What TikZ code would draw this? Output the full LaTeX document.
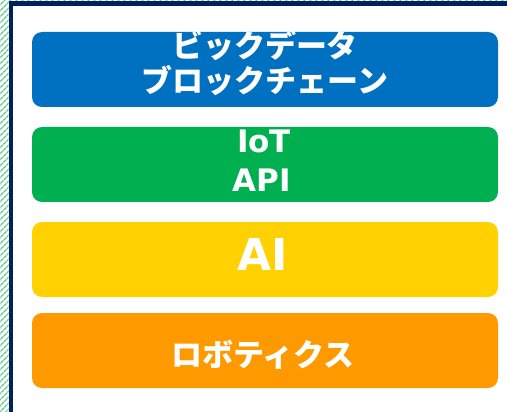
\documentclass[tikz,border=0pt]{standalone}
\usepackage{fontspec}
\newfontfamily\jpfont{Noto Sans CJK JP}
\newfontfamily\latinfont{DejaVu Sans}
\usetikzlibrary{patterns.meta}
\definecolor{layerblue}{HTML}{0070C0}
\definecolor{layergreen}{HTML}{00B050}
\definecolor{layeryellow}{HTML}{FFD100}
\definecolor{layerorange}{HTML}{FF9900}
\definecolor{framenavy}{HTML}{002060}
\definecolor{hatchgreen}{HTML}{5CCB8A}
\tikzset{
  layer/.style = {rounded corners = 10pt, minimum width = 466pt, minimum height = 75pt, inner sep = 0pt},
  caption/.style = {text = white, anchor = base, inner sep = 0pt, font = \jpfont\bfseries\fontsize{31}{31}\selectfont},
  hatch/.style = {pattern = {Lines[angle = 45, distance = 4pt, line width = 1.4pt]}, pattern color = hatchgreen}
}

\begin{document}
\begin{tikzpicture}[x = 1pt, y = -1pt]
\useasboundingbox (0,0) rectangle (507,412);
\fill[hatch] (0,0) rectangle (8.5,412);
\fill[hatch] (8.5,0) rectangle (507,1.5);
\draw[line width = 4.5pt, framenavy] (10.75,412) -- (10.75,3.5) -- (507,3.5);
\node[layer, fill = layerblue] (databox) at (265,69.5) {};
\node[layer, fill = layergreen] (iotbox) at (265,164.5) {};
\node[layer, fill = layeryellow] (aibox) at (265,259.5) {};
\node[layer, fill = layerorange] (robobox) at (265,350.5) {};
\node[caption] (bigdata) at (265,58) {ビックデータ};
\node[caption] (blockchain) at (265,93) {ブロックチェーン};
\node[caption, font = \latinfont\bfseries\fontsize{31}{31}\selectfont] (iot) at (264,153) {IoT};
\node[caption, font = \latinfont\bfseries\fontsize{31}{31}\selectfont] (api) at (262,192) {API};
\node[caption, font = \latinfont\bfseries\fontsize{44}{44}\selectfont] (ai) at (263,270) {AI};
\node[caption, font = \jpfont\bfseries\fontsize{31}{31}\selectfont] (robotics) at (263,366) {ロボティクス};
\end{tikzpicture}
\end{document}
